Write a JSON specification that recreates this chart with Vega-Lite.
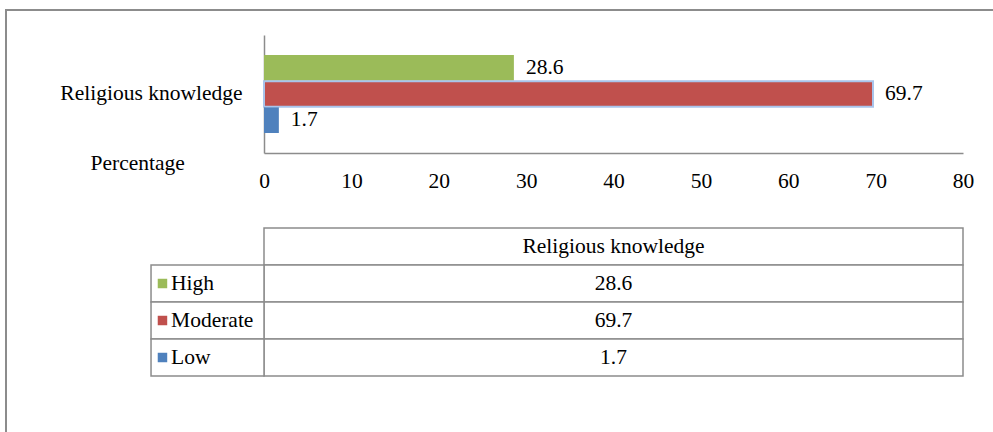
{
  "$schema": "https://vega.github.io/schema/vega-lite/v6.json",
  "width": 1000,
  "height": 440,
  "autosize": {"type": "none"},
  "padding": {"left": 6, "top": 10, "right": 0, "bottom": 0},
  "background": "white",
  "config": {
    "view": {"stroke": "#8c8c8c", "strokeWidth": 2},
    "font": "'Liberation Serif', 'Times New Roman', 'DejaVu Serif', serif",
    "text": {"font": "'Liberation Serif', 'Times New Roman', 'DejaVu Serif', serif", "fontSize": 21.5, "color": "#000000"},
    "axis": {"labelFont": "'Liberation Serif', 'Times New Roman', 'DejaVu Serif', serif", "titleFont": "'Liberation Serif', 'Times New Roman', 'DejaVu Serif', serif", "labelColor": "#000000", "titleColor": "#000000"}
  },
  "data": {
    "values": [
      {"category": "Religious knowledge", "level": "High", "value": 28.6},
      {"category": "Religious knowledge", "level": "Moderate", "value": 69.7},
      {"category": "Religious knowledge", "level": "Low", "value": 1.7}
    ]
  },
  "layer": [
    {
      "encoding": {
        "y": {
          "field": "category", "type": "nominal",
          "scale": {"range": [25, 143], "paddingInner": 0, "paddingOuter": 0.256},
          "axis": {"title": null, "orient": "left", "offset": -258, "ticks": false, "labelPadding": 22, "labelLimit": 400, "labelFontSize": 21.5, "domainColor": "#8c8c8c", "domainWidth": 1.5}
        },
        "yOffset": {"field": "level", "type": "nominal", "sort": ["High", "Moderate", "Low"], "scale": {"paddingInner": 0.02}},
        "x": {
          "field": "value", "type": "quantitative",
          "scale": {"domain": [0, 80], "range": [258, 957], "nice": false},
          "axis": {
            "orient": "bottom", "offset": -297, "values": [0, 10, 20, 30, 40, 50, 60, 70, 80],
            "ticks": false, "grid": false, "labelFontSize": 21.5, "labelPadding": 17, "labelFlush": false, "labelOverlap": false,
            "domainColor": "#8c8c8c", "domainWidth": 1.5,
            "title": "Percentage", "titleFontSize": 21.5, "titleFontWeight": "normal", "titleAlign": "left", "titleBaseline": "middle",
            "titleAngle": 0, "titleX": 84, "titleY": 10
          }
        }
      },
      "layer": [
        {
          "mark": {"type": "bar", "strokeWidth": 2},
          "encoding": {
            "color": {"field": "level", "type": "nominal", "scale": {"domain": ["High", "Moderate", "Low"], "range": ["#9bbb59", "#c0504d", "#4f81bd"]}, "legend": null},
            "stroke": {"condition": {"test": "datum.level === 'Moderate'", "value": "#a9c4eb"}, "value": "transparent"}
          }
        },
        {
          "mark": {"type": "text", "align": "left", "baseline": "middle", "dx": 12, "fontSize": 21.5},
          "encoding": {"text": {"field": "value", "type": "quantitative", "format": ".1f"}}
        }
      ]
    },
    {
      "layer": [
        {
          "transform": [{"aggregate": [{"op": "count", "as": "n"}], "groupby": ["category"]}],
          "mark": {"type": "rect", "fill": "white", "stroke": "#8c8c8c", "strokeWidth": 1.5},
          "encoding": {
            "y": {"field": "category", "type": "nominal", "scale": {"domain": ["Religious knowledge", "High", "Moderate", "Low"], "range": [218, 366], "paddingInner": 0, "paddingOuter": 0}, "axis": null},
            "x": {"datum": 0},
            "x2": {"datum": 80}
          }
        },
        {
          "transform": [{"aggregate": [{"op": "count", "as": "n"}], "groupby": ["category"]}],
          "mark": {"type": "text", "align": "center", "baseline": "middle", "fontSize": 21.5},
          "encoding": {
            "y": {"field": "category", "type": "nominal", "axis": null},
            "x": {"datum": 40},
            "text": {"field": "category"}
          }
        },
        {
          "mark": {"type": "rect", "fill": "white", "stroke": "#8c8c8c", "strokeWidth": 1.5},
          "encoding": {
            "y": {"field": "level", "type": "nominal", "axis": null},
            "x": {"datum": 0},
            "x2": {"datum": 80}
          }
        },
        {
          "mark": {"type": "rect", "fill": "white", "stroke": "#8c8c8c", "strokeWidth": 1.5},
          "encoding": {
            "y": {"field": "level", "type": "nominal", "axis": null},
            "x": {"datum": -12.93},
            "x2": {"datum": 0}
          }
        },
        {
          "mark": {"type": "point", "shape": "square", "filled": true, "opacity": 1, "size": 90},
          "encoding": {
            "y": {"field": "level", "type": "nominal", "axis": null},
            "x": {"datum": -11.62},
            "color": {"field": "level", "type": "nominal", "legend": null}
          }
        },
        {
          "mark": {"type": "text", "align": "left", "baseline": "middle", "fontSize": 21.5},
          "encoding": {
            "y": {"field": "level", "type": "nominal", "axis": null},
            "x": {"datum": -10.64},
            "text": {"field": "level"}
          }
        },
        {
          "mark": {"type": "text", "align": "center", "baseline": "middle", "fontSize": 21.5},
          "encoding": {
            "y": {"field": "level", "type": "nominal", "axis": null},
            "x": {"datum": 40},
            "text": {"field": "value", "type": "quantitative", "format": ".1f"}
          }
        }
      ]
    }
  ],
  "resolve": {"scale": {"y": "independent"}}
}
